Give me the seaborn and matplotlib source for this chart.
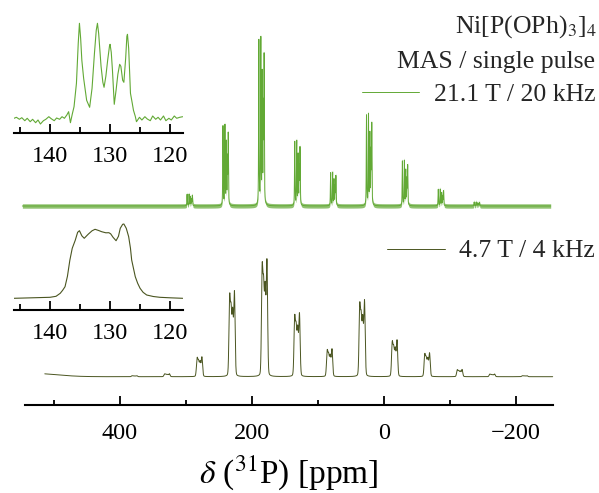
import numpy as np
import pandas as pd
import matplotlib
matplotlib.use("Agg")
import matplotlib.pyplot as plt
import seaborn as sns
from matplotlib.ticker import MultipleLocator

# ------------------------------------------------------------------
# Data (intensities in arbitrary units)
# ------------------------------------------------------------------
# Lower trace: 4.7 T / 4 kHz MAS - spinning sideband orders and peak heights
low_orders = [5, 4, 3, 2, 1, 0, -1, -2, -3, -4, -5, -6, -7]
low_heights = [1.0, 3.0, 20, 86, 118, 64, 28, 77, 37, 24, 7.3, 2.7, 1.0]
low_spacing = 49.3                      # ppm between sidebands
low_sites_ppm = [135.2, 133.0, 130.6, 127.9]
low_sites_amp = [1.0, 0.8, 0.8, 1.1]
low_fwhm = 2.4
low_start, low_end = 514, -256
low_bg_center, low_bg_height, low_bg_fwhm = 530, 3.2, 80

# Upper trace: 21.1 T / 20 kHz MAS
up_orders = [3, 2, 1, 0, -1, -2, -3, -4, -5]
up_heights = [12, 82, 170, 66, 34, 93, 46, 17, 4]
up_spacing = 54.4
up_sites_ppm = [135.1, 132.1, 130.0, 128.3, 127.1]
up_sites_amp = [95, 95, 74, 54, 84]
up_fwhm = 0.8
up_start, up_end = 548, -253
up_noise = 2.2

# Insets: centre band, read point by point
inset_up_ppm = [146.0, 145.6, 145.1, 144.7, 144.2, 143.8, 143.3, 142.9, 142.4, 142.0,
                141.6, 141.1, 140.7, 140.2, 139.8, 139.3, 138.9, 138.4, 138.0, 137.6,
                137.2, 136.9, 136.6, 136.3, 136.0, 135.6, 135.3, 135.1, 134.9, 134.7,
                134.4, 133.9, 133.4, 133.0, 132.6, 132.3, 132.1, 131.9, 131.5, 131.2,
                131.0, 130.7, 130.4, 130.1, 130.0, 129.8, 129.6, 129.3, 129.0, 128.7,
                128.4, 128.2, 127.9, 127.7, 127.4, 127.2, 127.1, 126.9, 126.6, 126.3,
                126.1, 125.8, 125.6, 125.1, 124.7, 124.2, 123.8, 123.3, 122.9, 122.4,
                122.0, 121.6, 121.1, 120.7, 120.2, 119.8, 119.3, 118.9, 118.4, 117.9]
inset_up_int = [0, 1, -1, 0.6, -2.4, 0, -3.4, -1, -4.4, -1.7,
                -5.7, -2.4, -1, 1.6, -0.4, -2.4, 0.3, -1, 1.6, 0,
                3.3, 6.6, -4.4, 4, 11.6, 35, 75, 95, 80, 58,
                40, 18, 11, 30, 65, 88, 95, 85, 52, 36,
                31, 42, 58, 72, 74, 66, 48, 14, 28, 44,
                54, 52, 38, 36, 60, 82, 84, 70, 25, 15,
                8, 2, -3.4, 1, -1.7, 1.6, -0.7, -2.4, 2.3, -1,
                1, -1.7, 2.3, -2.4, 0, -1.7, 2.3, 0, 1, 1.6]

inset_low_ppm = [146.0, 143.0, 140.0, 139.0, 138.3, 137.9, 137.5, 137.1, 136.7, 136.3,
                 135.8, 135.4, 135.1, 134.7, 134.3, 133.9, 133.6, 133.0, 132.5, 131.9,
                 131.4, 130.7, 130.2, 129.9, 129.5, 129.0, 128.6, 128.3, 127.9, 127.7,
                 127.3, 126.9, 126.6, 126.4, 125.8, 125.4, 125.0, 124.5, 123.9, 122.8,
                 121.7, 120.0, 117.9]
inset_low_int = [0, 0.5, 1, 2, 5, 8, 11.6, 22, 38, 50,
                 58, 66, 67.6, 62.5, 60, 62.5, 64.3, 67.5, 69, 67.8,
                 66.6, 65.5, 65.6, 64.5, 61, 57.6, 62, 70, 74, 74.3,
                 70, 61.6, 50, 38.3, 21.6, 15, 10, 6, 3.3, 1.8,
                 1, 0.5, 0]

main_ticks = [400, 200, 0, -200]
main_ticklabels = ["400", "200", "0", "\u2212200"]
inset_ticks = [140, 130, 120]
inset_ticklabels = ["140", "130", "120"]
x_label = r"$\delta$ ($^{31}$P) [ppm]"
label_up = "21.1 T / 20 kHz"
label_low = "4.7 T / 4 kHz"
header_1 = r"Ni[P(OPh)$_3$]$_4$"
header_2 = "MAS / single pulse"

SERIF = ["Liberation Serif", "DejaVu Serif"]

# ------------------------------------------------------------------
def pvoigt(x, x0, fwhm, eta=0.35):
    hw = fwhm / 2.0
    lor = 1.0 / (1.0 + ((x - x0) / hw) ** 2)
    gau = np.exp(-np.log(2) * ((x - x0) / hw) ** 2)
    return eta * lor + (1 - eta) * gau


def sideband_trace(x, orders, heights, spacing, sites, amps, fwhm, eta):
    y = np.zeros_like(x)
    fine = np.arange(min(sites) - 10, max(sites) + 10, 0.01)
    ref = sum(a * pvoigt(fine, s, fwhm, eta) for s, a in zip(sites, amps))
    norm = ref.max()
    for n, h in zip(orders, heights):
        shape = sum(a * pvoigt(x, s + n * spacing, fwhm, eta) for s, a in zip(sites, amps))
        y += h * shape / norm
    return y


ppm_low = np.arange(low_start, low_end, -0.04)
y_low = sideband_trace(ppm_low, low_orders, low_heights, low_spacing,
                       low_sites_ppm, low_sites_amp, low_fwhm, 0.15)
y_low += low_bg_height * np.exp(-np.log(2) * ((ppm_low - low_bg_center) / (low_bg_fwhm / 2)) ** 2)

ppm_up = np.arange(up_start, up_end, -0.04)
y_up = sideband_trace(ppm_up, up_orders, up_heights, up_spacing,
                      up_sites_ppm, up_sites_amp, up_fwhm, 0.6)

# vertical stacking of the two traces (axis units = pixels above the axis line)
off_low, off_up = 28.3, 199.0

df_low = pd.DataFrame({"ppm": ppm_low, "I": y_low + off_low})
df_up = pd.DataFrame({"ppm": ppm_up, "I": y_up + off_up})

# ------------------------------------------------------------------
sns.set_theme(style="white")
plt.rcParams["font.family"] = SERIF
plt.rcParams["mathtext.fontset"] = "stix"

W, H = 599, 493
fig = plt.figure(figsize=(W / 100, H / 100), dpi=100)

col_up = "#62a935"
col_low = "#4a5520"


def fx(px):
    return px / W


def fy(py):
    return 1 - py / H


ax = fig.add_axes([fx(25), fy(405), fx(552.7) - fx(25), 405 / H])
ax.set_facecolor("none")
sns.lineplot(data=df_up, x="ppm", y="I", ax=ax, color=col_up, lw=0.7,
             estimator=None, sort=False, label=label_up)
ax.fill_between(ppm_up, y_up + off_up - up_noise, y_up + off_up + up_noise,
                color=col_up, alpha=0.7, lw=0, clip_on=False)
sns.lineplot(data=df_low, x="ppm", y="I", ax=ax, color=col_low, lw=0.7,
             estimator=None, sort=False, label=label_low)
for ln in ax.get_lines():
    ln.set_clip_on(False)
ax.set_xlim(544, -256)
ax.set_ylim(0, 405)
for s in ["left", "right", "top"]:
    ax.spines[s].set_visible(False)
ax.spines["bottom"].set_linewidth(1.5)
ax.spines["bottom"].set_color("black")
ax.set_yticks([])
ax.set_ylabel("")
ax.set_xticks(main_ticks)
ax.set_xticklabels(main_ticklabels, fontfamily=SERIF)
ax.xaxis.set_minor_locator(MultipleLocator(100))
ax.tick_params(axis="x", which="major", direction="in", length=6.7, width=1.3,
               labelsize=17.5, pad=13, colors="black", bottom=True)
ax.tick_params(axis="x", which="minor", direction="in", length=3.6, width=1.3,
               bottom=True, colors="black")
ax.set_xlabel(x_label, fontsize=24, color="black")
ax.xaxis.set_label_coords(0.5, (405 - 453) / 405)

lines = ax.get_lines()
if ax.get_legend():
    ax.get_legend().remove()
leg1 = ax.legend([lines[0]], [label_up], loc="center right",
                 bbox_to_anchor=(fx(595), fy(95)), bbox_transform=fig.transFigure,
                 frameon=False, fontsize=18.5, handlelength=2.25, handletextpad=0.55,
                 borderpad=0, borderaxespad=0)
ax.add_artist(leg1)
leg2 = ax.legend([lines[1]], [label_low], loc="center right",
                 bbox_to_anchor=(fx(595), fy(251)), bbox_transform=fig.transFigure,
                 frameon=False, fontsize=18.5, handlelength=2.25, handletextpad=0.55,
                 borderpad=0, borderaxespad=0)

fig.text(fx(597), fy(32.7), header_1, ha="right", va="baseline", fontsize=18.5)
fig.text(fx(595), fy(68.3), header_2, ha="right", va="baseline", fontsize=18.5)


def make_inset(spine_y, ylo, ppm, inten, color):
    a = fig.add_axes([fx(14), fy(spine_y), fx(182.7) - fx(14), 120 / H])
    a.set_facecolor("none")
    sns.lineplot(x=ppm, y=inten, ax=a, color=color, lw=0.8, estimator=None, sort=False)
    a.set_xlim(146, 117.9)
    a.set_ylim(ylo, ylo + 120)
    for s in ["left", "right", "top"]:
        a.spines[s].set_visible(False)
    a.spines["bottom"].set_linewidth(1.5)
    a.spines["bottom"].set_color("black")
    a.set_yticks([])
    a.set_xticks(inset_ticks)
    a.set_xticklabels(inset_ticklabels, fontfamily=SERIF)
    a.xaxis.set_minor_locator(MultipleLocator(5))
    a.tick_params(axis="x", which="major", direction="in", length=6.7, width=1.3,
                  labelsize=17.5, pad=9.2, colors="black", bottom=True)
    a.tick_params(axis="x", which="minor", direction="in", length=4.0, width=1.3,
                  bottom=True, colors="black")
    a.set_xlabel("")
    a.set_ylabel("")
    return a


make_inset(133.3, -15, inset_up_ppm, inset_up_int, col_up)
make_inset(310, -11.7, inset_low_ppm, inset_low_int, col_low)

fig.savefig("out.png", dpi=100)
